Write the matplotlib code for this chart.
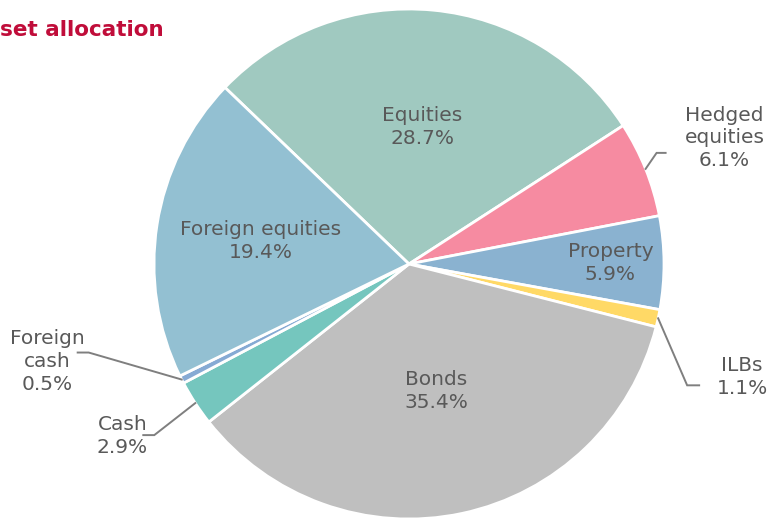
import numpy as np
import matplotlib.pyplot as plt

# Asset allocation data (percent), clockwise from Equities
labels = ['Equities', 'Hedged\nequities', 'Property', 'ILBs', 'Bonds', 'Cash',
          'Foreign\ncash', 'Foreign equities']
values = [28.7, 6.1, 5.9, 1.1, 35.4, 2.9, 0.5, 19.4]
colors = ['#A0C9C0', '#F68BA1', '#8AB2D0', '#FFD966', '#BFBFBF', '#75C6BE',
          '#86AAD4', '#93C0D2']

# label placement: inside (radius fraction) or outside (elbow offset, text offset) in px
inside = {0: 0.54, 2: 0.79, 4: 0.51, 7: 0.59}
outside = {1: ((11, 16), (9, 0), (79, 31)),
           3: ((29, -67), (12, 0), (84, -59)),
           5: ((-41, -32), (-11, 0), (-73, -33)),
           6: ((-93, 27), (-11, 0), (-134, 18))}

W, H = 769, 518
cx, cy, R = 409, H - 264, 255
txt_color = '#595959'
fs = 14.5

fig = plt.figure(figsize=(W / 100, H / 100), dpi=100)
ax = fig.add_axes([0, 0, 1, 1])

wedges, _ = ax.pie(values, colors=colors, startangle=136.2, counterclock=False,
                   center=(cx, cy), radius=R,
                   wedgeprops=dict(edgecolor='white', linewidth=2))

for i, w in enumerate(wedges):
    mid = np.deg2rad((w.theta1 + w.theta2) / 2)
    pct = f'{values[i]}%'
    if i in inside:
        r = inside[i] * R
        ax.text(cx + r * np.cos(mid), cy + r * np.sin(mid), labels[i] + '\n' + pct,
                ha='center', va='center', fontsize=fs, color=txt_color,
                linespacing=1.25)
    else:
        (ex, ey), (hx, hy), (tx, ty) = outside[i]
        x0, y0 = cx + R * np.cos(mid), cy + R * np.sin(mid)
        x1, y1 = x0 + ex, y0 + ey
        x2, y2 = x1 + hx, y1 + hy
        ax.plot([x0, x1, x2], [y0, y1, y2], color='#7F7F7F', lw=1.4,
                solid_joinstyle='miter')
        ax.text(x0 + tx, y0 + ty, labels[i] + '\n' + pct, ha='center', va='center',
                fontsize=fs, color=txt_color, linespacing=1.25)

ax.set_xlim(0, W)
ax.set_ylim(0, H)
ax.set_aspect('equal')
ax.axis('off')

fig.text(0, 1 - 30 / H, 'set allocation', ha='left', va='center',
         fontsize=15.5, fontweight='bold', color='#C00D3A')

fig.savefig('out.png', dpi=100)
